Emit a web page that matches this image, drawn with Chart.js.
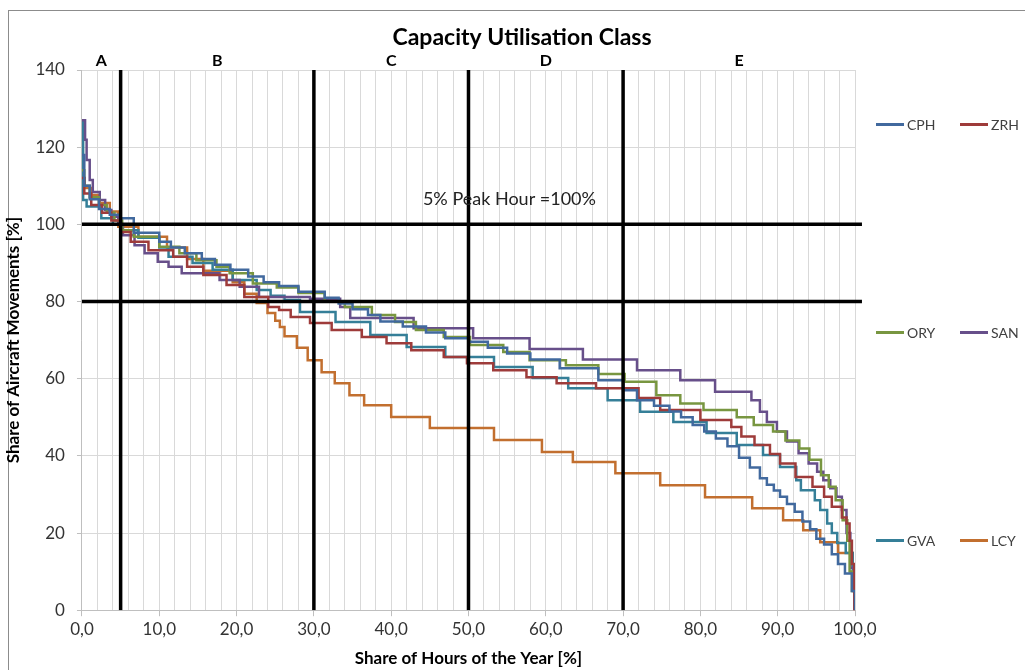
<!DOCTYPE html>
<html>
<head>
<meta charset="utf-8">
<script src="https://cdn.jsdelivr.net/npm/chart.js@4.4.1/dist/chart.umd.min.js"></script>
<style>
  html, body { margin: 0; padding: 0; background: #fff; }
  body { width: 1025px; height: 670px; position: relative; overflow: hidden; font-family: Lato, sans-serif; }
  #frame { position: absolute; left: 8px; top: 10px; width: 1100px; height: 700px; border: 1px solid #8c8c8c; }
  #wrap { position: absolute; left: 0; top: 0; width: 1025px; height: 670px; }
  .leg { position: absolute; font-size: 14px; color: #404040; display: flex; align-items: center; height: 16px; }
  .leg i { display: inline-block; width: 28px; height: 3px; margin-right: 3px; }
</style>
</head>
<body>
<div id="frame"></div>
<div id="wrap"><canvas id="chart"></canvas></div>
<div id="legend"></div>
<script>
// Dauerlinien: [Anteil Stunden %, Anteil Bewegungen %], Stufe gilt bis zum nächsten Punkt
const cph = [[0,118],[0.3,110],[1.0,106.5],[2.2,104],[3.6,102.5],[5.0,101.6],[6.7,97.8],[10.0,95.5],[11.5,94],[13.3,92.5],[15.5,91],[17.2,89.5],[19.2,88.2],[21.5,86.5],[23.5,85],[25.5,84],[28.0,82.5],[31.4,81],[33.2,79.5],[35.0,78],[37.0,76.5],[38.6,74.8],[41.5,73.5],[44.5,72],[47.0,70.5],[50.0,69.6],[52.5,68],[55.0,66.5],[58.0,65],[61.8,62.7],[66.8,59.6],[70.0,57],[71.8,54.4],[74.0,53],[76.0,51.5],[77.5,50],[79.0,48],[80.5,46.3],[82.0,44.5],[83.5,42.5],[85.0,39.5],[86.4,37],[87.7,34.2],[88.6,32.5],[89.5,31],[90.3,29.4],[91.2,27.5],[92.2,25.5],[93.2,23],[94.2,21],[95.0,18.5],[96.0,17],[97.0,14.5],[97.8,12],[98.7,9.5],[99.6,5],[100,0]];
const zrh = [[0,112],[0.3,108],[1.2,105],[2.6,103],[3.8,101],[5.0,98],[6.3,95.5],[8.6,93.3],[11.8,91.6],[13.6,89],[15.7,86.9],[18.7,84.3],[21.0,81.2],[24.1,78.6],[25.5,77.8],[27.0,76],[29.5,74.4],[32.3,72.6],[36.2,70.8],[39.4,69.2],[42.6,67.4],[46.8,65.6],[49.8,64],[53.2,62.2],[57.5,60.4],[61.4,58.8],[66.5,57.5],[72.0,55],[74.8,51.9],[80.0,49.3],[84.0,47.5],[85.3,45],[87.0,42.8],[89.0,40.5],[90.3,38],[92.3,34.5],[94.5,32],[96.0,29.4],[97.0,26.8],[98.3,24],[98.9,22.5],[99.3,18],[99.6,12],[99.9,0],[100,0]];
const ory = [[0,114],[0.3,110],[1.0,107],[2.2,105],[3.2,103],[4.2,101],[5.2,98.5],[6.7,96.8],[10.0,94.2],[12.6,92.5],[14.8,90.7],[17.4,89],[19.1,87.3],[22.1,84.7],[25.2,83.6],[28.0,82.2],[31.4,80],[34.0,78.6],[37.5,76.5],[40.5,74.7],[43.2,72.6],[46.8,70.8],[50.2,68.7],[54.5,66.9],[57.9,64.8],[62.6,63.5],[66.8,61.2],[70.2,59.2],[74.3,55.7],[77.4,53.6],[80.4,51.9],[84.7,50],[86.9,48],[89.4,46.3],[91.0,44],[92.8,41.9],[94.1,39],[95.6,35],[96.6,32],[97.5,28.5],[98.4,23.3],[99.0,18],[99.3,10],[99.6,5],[100,2]];
const san = [[0,127],[0.4,121.9],[0.6,116.7],[1.0,111.5],[1.4,108.4],[2.3,106.3],[3.0,103.7],[3.8,102],[4.7,100],[5.3,97.2],[6.8,94.6],[8.1,92.5],[9.8,90.3],[11.2,89],[12.9,87.3],[17.8,85.6],[20.4,83.8],[22.9,81.2],[29.5,80.7],[33.4,78.6],[34.7,75.7],[42.9,73.1],[50.6,70.5],[57.9,67.7],[64.8,65],[71.8,62.2],[77.4,59.6],[81.9,56.6],[86.6,54.4],[87.7,51.4],[88.6,48.8],[89.9,46.3],[91.2,43.7],[92.7,40.7],[94.0,38],[95.1,35.9],[95.9,33.7],[96.8,31.6],[97.6,29.4],[98.3,26],[98.9,20],[99.4,11],[99.8,5],[100,5]];
const gva = [[0,127],[0.15,106.3],[0.6,104.6],[2.5,101.6],[4.0,100],[5.0,98.5],[7.3,96.5],[10.0,94],[11.2,91.6],[14.3,90],[16.9,88.2],[19.5,85.6],[22.6,83],[24.4,81.5],[26.2,80.4],[28.2,77.3],[32.8,74.7],[37.3,71.3],[42.0,68.2],[47.0,65.6],[53.3,63],[58.3,60.2],[62.9,57.5],[68.0,54.4],[72.2,51.4],[76.5,48.8],[80.8,45.9],[84.7,42.8],[88.1,40.2],[90.3,37.1],[92.4,33.7],[93.0,31.1],[94.8,28.5],[95.5,26],[96.4,22.5],[97.0,20],[97.7,17.4],[98.8,14.8],[99.7,10],[100,10]];
const lcy = [[0,112],[0.35,109.4],[1.2,107.6],[2.3,105.5],[3.6,103.3],[4.7,99.4],[7.3,96.8],[11.0,94],[13.6,91],[15.7,88],[19.5,85],[21.0,82],[22.6,79.6],[24.0,77],[25.0,75],[25.6,73.4],[26.2,71],[27.8,68],[29.2,64.8],[31.0,61.7],[32.7,58.8],[34.6,55.7],[36.5,53.1],[40.0,50.1],[45.0,47.2],[53.3,44.1],[59.5,41],[63.5,38.4],[69.0,35.5],[74.8,32.4],[80.6,29.3],[86.7,26.4],[90.7,23.3],[93.3,20.7],[95.5,17.6],[97.8,14.8],[99.7,11.7],[100,0]];

const airports = ["CPH", "ZRH", "ORY", "SAN", "GVA", "LCY"];
const series = [cph, zrh, ory, san, gva, lcy];
const colors = ["#41699E", "#9E3B3A", "#789640", "#674F8A", "#357F98", "#C26F2F"];

// Klassengrenzen A-E und Referenzniveaus
const classBounds = [0, 5, 30, 50, 70, 100];
const classNames = ["A", "B", "C", "D", "E"];
const refLevels = [100, 80];
const peakLabel = "5% Peak Hour =100%";
const chartTitle = "Capacity Utilisation Class";

const FONT = "Lato, 'DejaVu Sans', sans-serif";

// Legende (HTML), 2 Spalten rechts
const legendRows = [124, 332, 540];
const legend = document.getElementById("legend");
airports.forEach((name, i) => {
    const d = document.createElement("div");
    d.className = "leg";
    d.style.left = (i % 2 === 0 ? 876 : 960) + "px";
    d.style.top = (legendRows[Math.floor(i / 2)] - 8) + "px";
    d.innerHTML = `<i style="background:${colors[i]}"></i>${name}`;
    legend.appendChild(d);
});

const datasets = [];

// schwarze Linien zuerst -> liegen oben
classBounds.slice(1, -1).forEach(b => {
    datasets.push({
        data: [{ x: b, y: 0 }, { x: b, y: 140 }],
        borderColor: "#000", borderWidth: 3.5, pointRadius: 0, order: 0
    });
});
refLevels.forEach(l => {
    datasets.push({
        data: [{ x: 0, y: l }, { x: 100.9, y: l }],
        borderColor: "#000", borderWidth: 3.5, pointRadius: 0, order: 0,
        clip: { left: 2, top: 0, right: 10, bottom: 0 }
    });
});
series.forEach((s, i) => {
    datasets.push({
        label: airports[i],
        data: s.map(p => ({ x: p[0], y: p[1] })),
        stepped: true,
        borderColor: colors[i],
        borderWidth: 2.5,
        pointRadius: 0,
        order: 1
    });
});

const extraText = {
    id: "extraText",
    afterDraw(chart) {
        const { ctx } = chart;
        const x = chart.scales.x, y = chart.scales.y;
        ctx.save();
        ctx.fillStyle = "#000";
        ctx.textAlign = "center";
        ctx.textBaseline = "middle";
        ctx.font = "bold 23px " + FONT;
        ctx.fillText(chartTitle, 522, 38);
        ctx.font = "bold 16px " + FONT;
        classNames.forEach((c, i) => {
            const mid = (classBounds[i] + classBounds[i + 1]) / 2;
            ctx.fillText(c, x.getPixelForValue(mid), 61);
        });
        ctx.font = "18px " + FONT;
        ctx.fillStyle = "#222";
        ctx.fillText(peakLabel, x.getPixelForValue(55.3), y.getPixelForValue(106.6));
        ctx.restore();
    }
};

new Chart(document.getElementById("chart"), {
    type: "line",
    data: { datasets },
    plugins: [extraText],
    options: {
        responsive: true,
        maintainAspectRatio: false,
        animation: false,
        layout: { padding: { top: 70, right: 170, bottom: 1, left: 0 } },
        plugins: { legend: { display: false }, tooltip: { enabled: false } },
        scales: {
            x: {
                type: "linear", min: 0, max: 100,
                ticks: {
                    stepSize: 2, autoSkip: false, maxRotation: 0,
                    color: "#333", font: { family: FONT, size: 17 }, padding: 3,
                    callback: v => (Math.round(v) % 10 === 0 ? v.toFixed(1).replace(".", ",") : "")
                },
                grid: {
                    color: "#D9D9D9", tickLength: 6,
                    tickColor: c => (c.tick && Math.round(c.tick.value) % 10 === 0 ? "#BFBFBF" : "rgba(0,0,0,0)")
                },
                border: { color: "#BFBFBF" },
                title: { display: true, text: "Share of Hours of the Year [%]", color: "#000", font: { family: FONT, size: 17, weight: "bold" }, padding: { top: 6, bottom: 0 } }
            },
            y: {
                min: 0, max: 140,
                ticks: { stepSize: 20, color: "#333", font: { family: FONT, size: 17 }, padding: 12 },
                grid: { color: "#D9D9D9", tickLength: 5, tickColor: "#BFBFBF" },
                border: { color: "#BFBFBF" },
                title: { display: true, text: "Share of Aircraft Movements [%]", color: "#000", font: { family: FONT, size: 17, weight: "bold" }, padding: { top: 3, bottom: 0 } }
            }
        }
    }
});
</script>
</body>
</html>
